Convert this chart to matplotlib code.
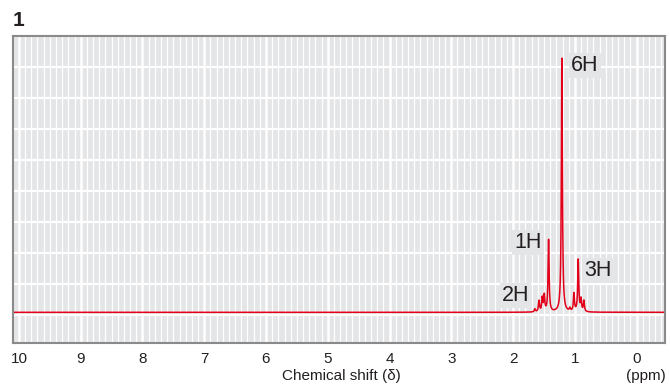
import numpy as np
import matplotlib
matplotlib.use("Agg")
import matplotlib.pyplot as plt

plt.rcParams['font.family'] = ['Liberation Sans', 'DejaVu Sans']

# peak list (ppm, height)
peak_ppm = [1.646, 1.58, 1.527, 1.495, 1.425, 1.21, 1.08, 1.015, 0.945, 0.90, 0.853]
peak_height = [3, 11, 13.5, 16, 72, 254, 3, 18, 52, 12, 11]
peak_width = 0.01

# integration labels (text, ppm, height, alignment)
label_text = ['6H', '1H', '3H', '2H']
label_ppm = [1.063, 1.537, 0.853, 1.738]
label_y = [246.7, 70, 42, 17]
label_ha = ['left', 'right', 'left', 'right']

xticks = list(range(0, 11))

red = '#e2001a'
bg = '#e4e5e6'
ink = '#231f20'

x = np.linspace(-0.46, 10.1, 30000)
y = np.zeros_like(x)
for p, h in zip(peak_ppm, peak_height):
    y += h * peak_width**2 / ((x - p)**2 + peak_width**2)

fig = plt.figure(figsize=(6.7, 3.86), dpi=100)
ax = fig.add_axes([0.019, 0.1106, 0.9736, 0.7961])
ax.set_facecolor(bg)

ax.set_xlim(10.1, -0.46)
ax.set_ylim(-31, 276.5)
ax.set_xticks(xticks)
ax.set_xticks(np.arange(-0.4, 10.1, 0.1), minor=True)
ax.set_yticks([-2.5 + 31 * k for k in range(9)])
ax.set_yticklabels([])
ax.grid(which='minor', axis='x', color='white', lw=0.9)
ax.grid(which='major', axis='x', color='white', lw=1.8)
ax.grid(which='major', axis='y', color='white', lw=1.6)
ax.set_axisbelow(True)
ax.tick_params(which='both', length=0)
ax.tick_params(axis='x', pad=6, labelsize=11, labelcolor=ink)
for s in ax.spines.values():
    s.set_color('#8a8a8a')
    s.set_linewidth(1.5)

ax.plot(x, y, color=red, lw=1.1)

for t, px, py, ha in zip(label_text, label_ppm, label_y, label_ha):
    ax.text(px, py, t, ha=ha, va='center', fontsize=15.5, color=ink,
            bbox=dict(facecolor=bg, edgecolor='none', pad=1.5))

fig.text(19 / 670, 1 - 20 / 386, '1', fontsize=15, fontweight='bold',
         ha='center', va='center', color=ink)
fig.text(341 / 670, 1 - 376 / 386, 'Chemical shift (δ)', fontsize=11,
         ha='center', va='center', color=ink)
fig.text(646 / 670, 1 - 376 / 386, '(ppm)', fontsize=11,
         ha='center', va='center', color=ink)

fig.savefig('out.png', dpi=100)
